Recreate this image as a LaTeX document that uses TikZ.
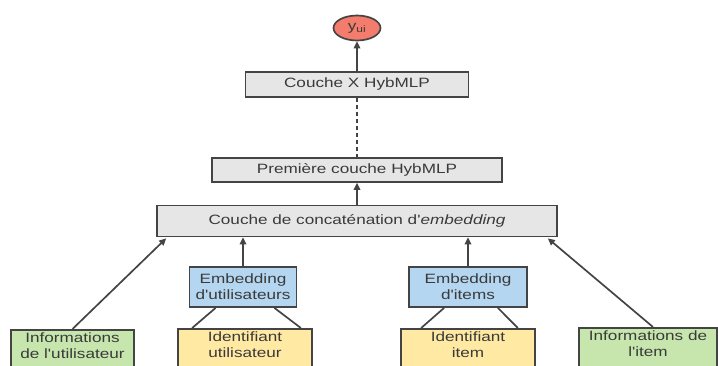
\documentclass[tikz,border=0pt]{standalone}
\usepackage{fontspec}
\setmainfont[FakeStretch=1.27, Ligatures=TeXOff]{Liberation Sans}
\usetikzlibrary{arrows.meta,shapes.geometric}
\definecolor{linec}{HTML}{444444}
\definecolor{txtc}{HTML}{3A3A3A}
\definecolor{redf}{HTML}{F47C6C}
\definecolor{greyf}{HTML}{E6E6E6}
\definecolor{bluef}{HTML}{B4D6F0}
\definecolor{yelf}{HTML}{FFE9A3}
\definecolor{greenf}{HTML}{C7E6AD}
\newcommand{\upbox}[1]{\raisebox{5pt}[\height][\depth]{\begin{tabular}{@{}c@{}}#1\end{tabular}}}
\begin{document}
\begin{tikzpicture}[x=1pt,y=-1pt,
  every node/.style={font=\fontsize{13.5}{16}\selectfont, text=txtc},
  box/.style={draw=linec, line width=1.7pt, rectangle, inner sep=2pt, align=center},
  arr/.style={draw=linec, line width=1.7pt, -{Triangle[length=7pt,width=6.5pt]}},
  ln/.style={draw=linec, line width=1.7pt}]
\useasboundingbox (0,0) rectangle (718,365);
\clip (0,0) rectangle (718,365);
\node[ellipse, draw=linec, line width=1.7pt, fill=redf, minimum width=47pt, minimum height=25pt, inner sep=0pt] (out) at (357,28) {y\textsubscript{ui}};
\node[box, fill=greyf, minimum width=223pt, minimum height=25pt] (cx) at (357,84.5) {Couche X HybMLP};
\node[box, fill=greyf, minimum width=290pt, minimum height=24pt] (first) at (357,170) {Première couche HybMLP};
\node[box, fill=greyf, minimum width=400pt, minimum height=31pt] (cat) at (357,221) {Couche de concaténation d'\textit{embedding}};
\node[box, fill=bluef, minimum width=107pt, minimum height=40pt] (embu) at (243,287) {Embedding\\d'utilisateurs};
\node[box, fill=bluef, minimum width=118pt, minimum height=40pt] (embi) at (468,287) {Embedding\\d'items};
\node[box, fill=yelf, minimum width=134pt, minimum height=44pt, anchor=north] (idu) at (245,328) {\upbox{Identifiant\\utilisateur}};
\node[box, fill=yelf, minimum width=134pt, minimum height=44pt, anchor=north] (idi) at (468,328) {\upbox{Identifiant\\item}};
\node[box, fill=greenf, minimum width=123pt, minimum height=44pt, anchor=north] (infou) at (72.5,329) {\upbox{Informations\\de l'utilisateur}};
\node[box, fill=greenf, minimum width=138pt, minimum height=44pt, anchor=north] (infoi) at (648,327) {\upbox{Informations de\\l'item}};
\draw[arr] (cx) -- (out);
\draw[ln, dash pattern=on 4pt off 3pt] (cx.south) -- (first.north);
\draw[arr] (cat) -- (first);
\draw[arr] (embu.north) -- (embu.north |- cat.south);
\draw[arr] (embi.north) -- (embi.north |- cat.south);
\draw[arr] (infou.north) -- ([xshift=10pt,yshift=-1pt]cat.south west);
\draw[arr] ([xshift=5pt]infoi.north) -- ([xshift=-10pt,yshift=-1pt]cat.south east);
\draw[ln] ([xshift=15pt]idu.north west) -- ([xshift=27pt]embu.south west);
\draw[ln] ([xshift=-12pt]idu.north east) -- ([xshift=-23pt]embu.south east);
\draw[ln] ([xshift=21pt]idi.north west) -- ([xshift=36pt]embi.south west);
\draw[ln] ([xshift=-18pt]idi.north east) -- ([xshift=-30pt]embi.south east);
\end{tikzpicture}
\end{document}
